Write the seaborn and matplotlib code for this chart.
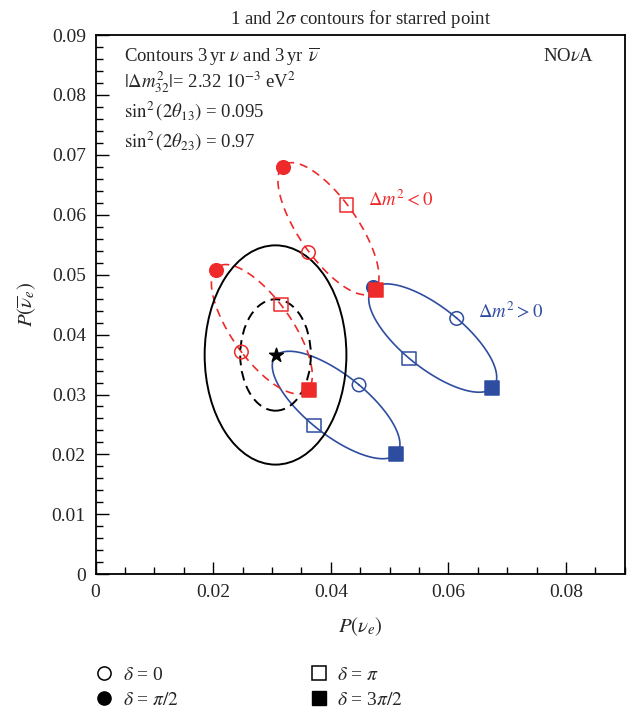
import numpy as np
import seaborn as sns
import matplotlib.pyplot as plt
from matplotlib.patches import Ellipse
from matplotlib.lines import Line2D

# Pontos de delta = 0, pi/2, pi, 3pi/2 em cada elipse
deltas = [0, np.pi / 2, np.pi, 3 * np.pi / 2]

nh_a_x = [0.0448, 0.0307, 0.0371, 0.0510]
nh_a_y = [0.0316, 0.0366, 0.0248, 0.0200]
nh_b_x = [0.0614, 0.0472, 0.0533, 0.0674]
nh_b_y = [0.0427, 0.0479, 0.0360, 0.0311]
ih_a_x = [0.0248, 0.0205, 0.0315, 0.0363]
ih_a_y = [0.0371, 0.0508, 0.0450, 0.0307]
ih_b_x = [0.0362, 0.0318, 0.0427, 0.0477]
ih_b_y = [0.0537, 0.0680, 0.0616, 0.0474]

# Ponto estrelado e contornos de 1 e 2 sigma
star_x, star_y = 0.0306, 0.0366
sigma_levels = [1, 2]
contour_width = [0.0120, 0.0241]
contour_height = [0.0186, 0.0366]

blue = "#2F4DA0"
red = "#EE2A2A"

sns.set_theme(style="ticks")
plt.rcParams["font.family"] = ["Liberation Serif", "DejaVu Serif"]
plt.rcParams["mathtext.fontset"] = "stix"

fig = plt.figure(figsize=(6.37, 7.16), dpi=100)
ax = fig.add_axes([0.150, 0.198, 0.831, 0.753])

t = np.linspace(0, 2 * np.pi, 300)


def elipse(px, py):
    px, py = np.array(px), np.array(py)
    cx, cy = px.mean(), py.mean()
    ux, uy = (px[0] - px[2]) / 2, (py[0] - py[2]) / 2
    vx, vy = (px[1] - px[3]) / 2, (py[1] - py[3]) / 2
    return cx + ux * np.cos(t) + vx * np.sin(t), cy + uy * np.cos(t) + vy * np.sin(t)


def marcadores(px, py, cor, pular=()):
    estilos = [("o", "none"), ("o", cor), ("s", "none"), ("s", cor)]
    for i, (m, fc) in enumerate(estilos):
        if i in pular:
            continue
        ax.scatter(px[i], py[i], marker=m, s=95, facecolors=fc, edgecolors=cor,
                   linewidths=1.1, zorder=5)


for px, py, cor, ls in [(nh_a_x, nh_a_y, blue, "-"), (nh_b_x, nh_b_y, blue, "-"),
                        (ih_a_x, ih_a_y, red, (0, (5, 3.5))), (ih_b_x, ih_b_y, red, (0, (5, 3.5)))]:
    ex, ey = elipse(px, py)
    sns.lineplot(x=ex, y=ey, sort=False, estimator=None, color=cor, lw=1.2, linestyle=ls, ax=ax)

marcadores(nh_a_x, nh_a_y, blue, pular=(1,))
marcadores(nh_b_x, nh_b_y, blue)
marcadores(ih_a_x, ih_a_y, red)
marcadores(ih_b_x, ih_b_y, red)

for lvl, w, h in zip(sigma_levels, contour_width, contour_height):
    ax.add_patch(Ellipse((star_x, star_y), w, h, fill=False, color="black", lw=1.4,
                         linestyle=(0, (5, 3)) if lvl == 1 else "-", zorder=3))

ax.scatter(star_x, star_y, marker="*", s=110, color="black", zorder=6)

ax.set_xlim(0, 0.09)
ax.set_ylim(0, 0.09)
ax.set_xticks([0, 0.02, 0.04, 0.06, 0.08])
ax.set_xticklabels(["0", "0.02", "0.04", "0.06", "0.08"])
ax.set_yticks(np.arange(0, 0.0901, 0.01))
ax.set_yticklabels(["0"] + [f"{v:.2f}" for v in np.arange(0.01, 0.0901, 0.01)])
ax.set_xticks(np.arange(0, 0.0901, 0.005), minor=True)
ax.set_yticks(np.arange(0, 0.0901, 0.002), minor=True)
ax.tick_params(which="both", direction="in", top=False, right=False, labelsize=14,
               color="black", width=1)
ax.tick_params(which="major", length=9, pad=7)
ax.tick_params(which="minor", length=5)
for s in ax.spines.values():
    s.set_color("black")
    s.set_linewidth(1.3)

ax.set_xlabel(r"$P(\nu_e)$", fontsize=15, labelpad=10)
ax.set_ylabel(r"$P(\overline{\nu}_e)$", fontsize=15, labelpad=10)
ax.set_title(r"1 and 2$\sigma$ contours for starred point", fontsize=13.5, pad=8)

fs = 13.5
tr = ax.get_yaxis_transform()
ax.text(0.053, 0.0864, r"Contours 3$\,$yr $\nu$ and 3$\,$yr $\,\overline{\nu}$", fontsize=fs,
        va="center", transform=tr)
ax.text(0.053, 0.0822, r"$|\Delta m^2_{32}|$= 2.32 $10^{-3}$ eV$^2$", fontsize=fs, va="center",
        transform=tr)
ax.text(0.053, 0.0773, r"$\sin^2(2\theta_{13})$ = 0.095", fontsize=fs, va="center", transform=tr)
ax.text(0.053, 0.0722, r"$\sin^2(2\theta_{23})$ = 0.97", fontsize=fs, va="center", transform=tr)
ax.text(0.943, 0.0864, r"NO$\nu$A", fontsize=fs, ha="right", va="center", transform=tr)

ax.text(0.0464, 0.0626, r"$\Delta m^2 < 0$", color=red, fontsize=fs, va="center")
ax.text(0.0650, 0.0438, r"$\Delta m^2 > 0$", color=blue, fontsize=fs, va="center")

handles = [
    Line2D([], [], ls="", marker="o", ms=9.5, mfc="none", mec="black", mew=1.1, label=r"$\delta$ = 0"),
    Line2D([], [], ls="", marker="o", ms=9.5, mfc="black", mec="black", label=r"$\delta$ = $\pi/2$"),
    Line2D([], [], ls="", marker="s", ms=9.5, mfc="none", mec="black", mew=1.1, label=r"$\delta$ = $\pi$"),
    Line2D([], [], ls="", marker="s", ms=9.5, mfc="black", mec="black", label=r"$\delta$ = 3$\pi/2$"),
]
fig.legend(handles=handles, ncol=2, loc="upper left", bbox_to_anchor=(0.133, 0.083),
           frameon=False, fontsize=14, handlelength=1.0, handletextpad=0.45,
           columnspacing=6.7, labelspacing=0.38, borderpad=0)

plt.savefig("out.png", dpi=100)
